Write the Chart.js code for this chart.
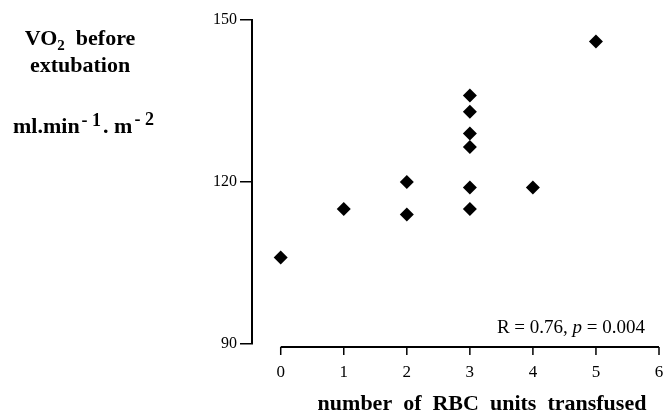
<!DOCTYPE html>
<html>
<head>
<meta charset="utf-8">
<script src="https://cdn.jsdelivr.net/npm/chart.js@4"></script>
<style>
  body { margin: 0; background: #fff; }
  #grafico { display: block; }
</style>
</head>
<body>
<canvas id="grafico" width="666" height="412"></canvas>
<script>
// datos
var rbcUnits = [0, 1, 2, 2, 3, 3, 3, 3, 3, 3, 4, 5];
var vo2Values = [106, 115, 120, 114, 136, 133, 129, 126.5, 119, 115, 119, 146];
var xTicks = [0, 1, 2, 3, 4, 5, 6];
var yTicks = [90, 120, 150];
var xTitle = 'number  of  RBC  units  transfused';
var statsText = ['R = 0.76, ', 'p', ' = 0.004'];

var serif = '"Liberation Serif", "Times New Roman", serif';

var points = rbcUnits.map(function (u, i) { return { x: u, y: vo2Values[i] }; });

// eje x separado del eje y + textos
var extras = {
  id: 'extras',
  afterDraw: function (chart) {
    var ctx = chart.ctx;
    var xs = chart.scales.x;
    var area = chart.chartArea;
    var yLine = area.bottom + 3;
    ctx.save();
    ctx.strokeStyle = '#000';
    ctx.lineWidth = 2;
    ctx.beginPath();
    ctx.moveTo(xs.getPixelForValue(xTicks[0]), yLine);
    ctx.lineTo(xs.getPixelForValue(xTicks[xTicks.length - 1]), yLine);
    ctx.stroke();
    ctx.lineWidth = 1.5;
    xTicks.forEach(function (t) {
      var px = xs.getPixelForValue(t);
      ctx.beginPath();
      ctx.moveTo(px, yLine);
      ctx.lineTo(px, yLine + 8);
      ctx.stroke();
    });

    ctx.fillStyle = '#000';
    ctx.textBaseline = 'alphabetic';

    // titulo eje x
    ctx.textAlign = 'center';
    ctx.font = 'bold 22px ' + serif;
    ctx.fillText(xTitle, 482, 410);

    // titulo del eje y
    ctx.textAlign = 'left';
    var big = 'bold 22px ' + serif;
    var small = 'bold 15px ' + serif;
    ctx.font = big;
    var wVO = ctx.measureText('VO').width;
    var wBefore = ctx.measureText('  before').width;
    ctx.font = small;
    var w2 = ctx.measureText('2').width;
    var x0 = 80 - (wVO + w2 + wBefore) / 2;
    ctx.font = big;
    ctx.fillText('VO', x0, 45);
    ctx.font = small;
    ctx.fillText('2', x0 + wVO, 50);
    ctx.font = big;
    ctx.fillText('  before', x0 + wVO + w2, 45);
    ctx.textAlign = 'center';
    ctx.fillText('extubation', 80, 72);

    ctx.textAlign = 'left';
    var mid = 'bold 22px ' + serif;
    var sup = 'bold 18px ' + serif;
    var x = 13;
    var parts = [['ml.min', mid, 0], ['- 1', sup, -7], ['. m', mid, 0], ['- 2', sup, -8]];
    parts.forEach(function (p) {
      ctx.font = p[1];
      ctx.fillText(p[0], x, 133 + p[2]);
      x += ctx.measureText(p[0]).width + 2;
    });

    // estadistico
    var normal = '19px ' + serif;
    var italic = 'italic 19px ' + serif;
    var fonts = [normal, italic, normal];
    var widths = statsText.map(function (s, i) { ctx.font = fonts[i]; return ctx.measureText(s).width; });
    var sx = 645 - widths.reduce(function (a, b) { return a + b; }, 0);
    statsText.forEach(function (s, i) {
      ctx.font = fonts[i];
      ctx.fillText(s, sx, 333);
      sx += widths[i];
    });
    ctx.restore();
  }
};

var ctx = document.getElementById('grafico').getContext('2d');
var chart = new Chart(ctx, {
  type: 'scatter',
  data: {
    datasets: [{
      data: points,
      pointStyle: 'rectRot',
      pointRadius: 7,
      pointHoverRadius: 7,
      backgroundColor: '#000',
      borderColor: '#000',
      borderWidth: 0
    }]
  },
  options: {
    responsive: false,
    animation: false,
    layout: { padding: { left: 0, right: -1, top: 20, bottom: 0 } },
    plugins: {
      legend: { display: false },
      tooltip: { enabled: false }
    },
    scales: {
      x: {
        type: 'linear',
        min: -0.4555,
        max: 6,
        afterBuildTicks: function (scale) {
          scale.ticks = xTicks.map(function (v) { return { value: v }; });
        },
        afterFit: function (scale) {
          scale.height = 68;
          scale.paddingLeft = 0;
          scale.paddingRight = 0;
        },
        border: { display: false },
        grid: { display: false },
        ticks: {
          color: '#000',
          padding: 10,
          maxRotation: 0,
          font: { family: serif, size: 17 }
        }
      },
      y: {
        min: 90,
        max: 150,
        afterBuildTicks: function (scale) {
          scale.ticks = yTicks.map(function (v) { return { value: v }; });
        },
        afterFit: function (scale) { scale.width = 252; },
        border: { display: true, color: '#000', width: 2 },
        grid: {
          drawOnChartArea: false,
          drawTicks: true,
          tickLength: 12,
          tickColor: '#000',
          lineWidth: 1.5
        },
        ticks: {
          color: '#000',
          padding: 3,
          font: { family: serif, size: 16 }
        }
      }
    }
  },
  plugins: [extras]
});
</script>
</body>
</html>
